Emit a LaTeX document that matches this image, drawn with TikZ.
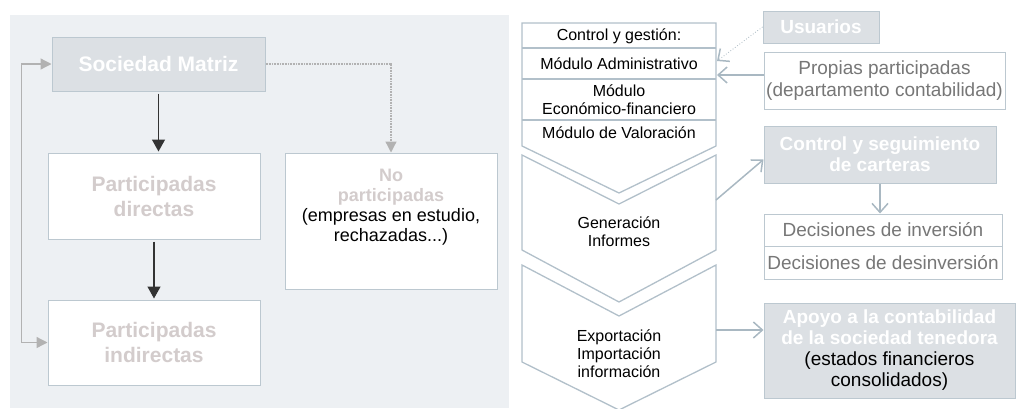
\documentclass[tikz,border=0pt]{standalone}
\usepackage{fontspec}
\setmainfont{Liberation Sans}
\usetikzlibrary{arrows.meta}
\definecolor{panelbg}{HTML}{EDF0F3}
\definecolor{boxgray}{HTML}{DCE0E4}
\definecolor{boxline}{HTML}{BCC8D0}
\definecolor{chevline}{HTML}{B2C0CA}
\definecolor{arrowblue}{HTML}{A9B8C2}
\definecolor{paletext}{HTML}{D3CCCC}
\definecolor{greytext}{HTML}{777777}
\tikzstyle{box_gray} = [draw=boxline, fill=boxgray, line width=1pt, inner sep=0pt, align=center, text=white, font=\bfseries\fontsize{19}{21}\selectfont]
\tikzstyle{box_white} = [draw=boxline, fill=white, line width=1pt, inner sep=0pt, align=center, text=greytext, font=\fontsize{19}{21.5}\selectfont]
\tikzstyle{box_pale} = [draw=boxline, fill=white, line width=1pt, inner sep=0pt, align=center, text=paletext, font=\bfseries\fontsize{21}{25}\selectfont]
\tikzstyle{chev_text} = [align=center, font=\fontsize{16}{18}\selectfont]
\tikzstyle{edge_dark} = [draw=black!65, line width=1.3pt, -{Triangle[length=12pt,width=13pt]}, color=black!80, shorten <=2pt, shorten >=1pt]
\tikzstyle{edge_gray} = [draw=black!30, line width=1.3pt, {Triangle[length=11pt,width=11pt]}-{Triangle[length=11pt,width=11pt]}]
\tikzstyle{edge_dotted} = [draw=black!30, line width=1.3pt, dotted, dash pattern=on 1pt off 0.6pt, -{Triangle[length=11pt,width=11pt]}]
\tikzstyle{edge_open} = [draw=arrowblue, line width=1.5pt, -{Straight Barb[length=9pt,width=16pt,line width=1.5pt]}]

\begin{document}
\begin{tikzpicture}[x=1pt,y=-1pt]
		\useasboundingbox (0,0) rectangle (1017,408);
		% left panel
		\fill[panelbg] (10,15) rectangle (509,408);
		\node (mat) at (158.5,64) [box_gray, minimum width=213pt, minimum height=54pt, font=\bfseries\fontsize{21}{25}\selectfont] {Sociedad Matriz};
		\node (dir) at (154,196) [box_pale, minimum width=212pt, minimum height=86pt] {Participadas\\directas};
		\node (ind) at (154,342.5) [box_pale, minimum width=212pt, minimum height=85pt] {Participadas\\indirectas};
		\node (nopart) at (391,221) [box_white, minimum width=212pt, minimum height=136pt] {};
		\node (nopart_txt) at (391,207) [align=center, font=\fontsize{18}{20}\selectfont] {{\color{paletext}\bfseries No}\\{\color{paletext}\bfseries participadas}\\(empresas en estudio,\\rechazadas...)};
		
		\draw[edge_dark] (mat.south) -- (mat.south |- dir.north);
		\draw[edge_dark] (dir.south) -- (dir.south |- ind.north);
		\draw[edge_gray] (mat.west) -- ++(-30,0) |- (ind.west);
		\draw[edge_dotted] (mat.east) -| (nopart.north);
		
		% chevrons
		\draw[chevline, line width=1.3pt, fill=white] (522,23) -- (716,23) -- (716,146) -- (619,193) -- (522,146) -- cycle;
		\draw[chevline, line width=1.3pt] (522,48) -- (716,48) (522,79) -- (716,79) (522,120) -- (716,120);
		\draw[chevline, line width=1.3pt, fill=white] (522,155) -- (619,204) -- (716,155) -- (716,250) -- (619,302) -- (522,250) -- cycle;
		\draw[chevline, line width=1.3pt, fill=white] (522,265) -- (619,316) -- (716,265) -- (716,362) -- (619,410) -- (522,362) -- cycle;
		\node (ctl) at (619,36) [chev_text] {Control y gestión:};
		\node (adm) at (619,63.5) [chev_text] {Módulo Administrativo};
		\node (eco) at (619,99.5) [chev_text] {Módulo\\Económico-financiero};
		\node (val) at (619,133) [chev_text] {Módulo de Valoración};
		\node (gen) at (619,232) [chev_text] {Generación\\Informes};
		\node (exp) at (619,354) [chev_text] {Exportación\\Importación\\información};
		\coordinate (adm_in1) at (717,61);
		\coordinate (adm_in2) at (717,75);
		\coordinate (gen_out) at (716,200);
		\coordinate (exp_out) at (716,330);
		
		% right column
		\node (usu) at (821,27) [box_gray, minimum width=116pt, minimum height=32pt] {Usuarios};
		\node (prop) at (884.5,80.5) [box_white, minimum width=241pt, minimum height=57pt] {Propias participadas\\(departamento contabilidad)};
		\node (cart) at (880,154.5) [box_gray, minimum width=232pt, minimum height=57pt] {Control y seguimiento\\de carteras};
		\node (inv) at (883,230) [box_white, minimum width=238pt, minimum height=32pt] {Decisiones de inversión};
		\node (desinv) at (883,262.5) [box_white, minimum width=238pt, minimum height=33pt] {Decisiones de desinversión};
		\node (apoyo) at (889.5,350.5) [box_gray, minimum width=251pt, minimum height=95pt] {Apoyo a la contabilidad\\de la sociedad tenedora\\{\mdseries\color{black}(estados financieros}\\{\mdseries\color{black}consolidados)}};
		
		\draw[draw=arrowblue, line width=0.8pt, dotted, -{Straight Barb[length=9pt,width=16pt,line width=1.5pt]}] (usu.west) -- (adm_in1);
		\draw[edge_open] (adm_in2 -| prop.west) -- (adm_in2);
		\draw[edge_open] (gen_out) -- ([yshift=-5pt]cart.west);
		\draw[edge_open] (cart.south) -- (cart.south |- inv.north);
		\draw[edge_open] (exp_out) -- (exp_out -| apoyo.west);
		\end{tikzpicture}
\end{document}
